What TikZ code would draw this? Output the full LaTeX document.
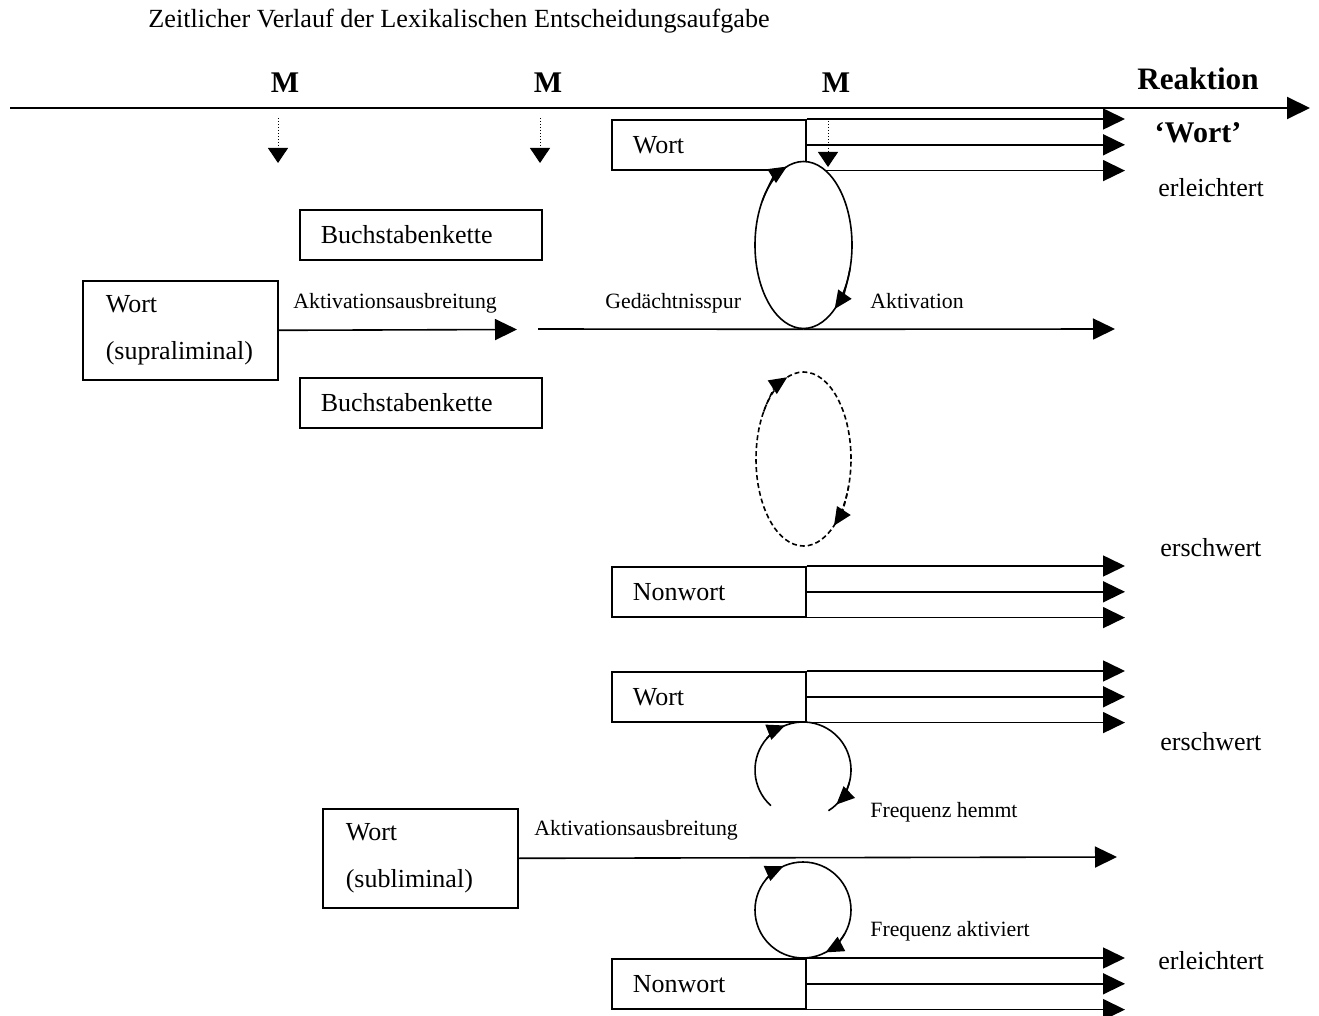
\documentclass[tikz,border=0pt]{standalone}
\usepackage{fontspec}
\setmainfont{Liberation Serif}
\usetikzlibrary{arrows.meta, positioning, shapes.geometric, calc}
\tikzset{
  kasten/.style={
    draw,
    line width=0.8pt,
    anchor=north west,
    minimum height=25pt,
    inner xsep=10.5pt,
    inner ysep=0pt,
    text width=76pt,
    align=left,
    font=\fontsize{13}{15.6}\selectfont
  },
  doppelkasten/.style={
    kasten,
    minimum height=49.5pt,
    inner xsep=11.5pt,
    text width=74.5pt,
    font=\fontsize{13}{23.5}\selectfont
  },
  spur/.style={
    ellipse,
    draw,
    line width=0.8pt,
    inner sep=0pt
  },
  flow/.style={
    -{Triangle[length=11pt,width=10.5pt]},
    line width=0.8pt
  },
  achse/.style={
    -{Triangle[length=11.5pt,width=11pt]},
    line width=1pt
  },
  marke/.style={
    densely dotted,
    -{Triangle[length=7.5pt,width=10pt]},
    line width=0.5pt
  },
  bogen/.style={
    -{Triangle[length=9pt,width=8pt]},
    line width=0.8pt
  },
  gestrichelt/.style={dash pattern=on 2.5pt off 1.5pt},
  normal/.style={anchor=base west, inner sep=0pt, font=\fontsize{13}{15.6}\selectfont},
  klein/.style={anchor=base west, inner sep=0pt, font=\fontsize{10.9}{13}\selectfont},
  fett/.style={anchor=base, inner sep=0pt, font=\fontsize{15}{18}\selectfont\bfseries}
}

\begin{document}
\begin{tikzpicture}[x=0.5pt, y=-0.5pt]
  \useasboundingbox (0,0) rectangle (1319,1016);

  % Zeitachse
  \node[normal, font=\fontsize{13.1}{15}\selectfont] (titel) at (148,28) {Zeitlicher Verlauf der Lexikalischen Entscheidungsaufgabe};
  \coordinate (achse0) at (10,108);
  \coordinate (achse1) at (1310,108);
  \draw[achse] (achse0) -- (achse1);

  \node[fett] (m1) at (285,93) {M};
  \node[fett] (m2) at (548,93) {M};
  \node[fett] (m3) at (836,93) {M};
  \node[fett, font=\fontsize{15.6}{18}\selectfont\bfseries] (reaktion) at (1198,90) {Reaktion};
  \node[fett] (antwort) at (1198,143) {`Wort'};

  \coordinate (p1) at (278,118);  \coordinate (q1) at (278,163);
  \coordinate (p2) at (540,118);  \coordinate (q2) at (540,163);
  \coordinate (p3) at (828,121);  \coordinate (q3) at (828,167);

  % Kaesten
  \node[doppelkasten] (supra) at (82,280) {Wort\\(supraliminal)};
  \node[kasten, text width=100pt] (kette1) at (299,209) {Buchstabenkette};
  \node[kasten, text width=100pt] (kette2) at (299,377) {Buchstabenkette};
  \node[kasten] (wort1) at (611,119) {Wort};
  \node[kasten] (nonwort1) at (611,566) {Nonwort};
  \node[kasten] (wort2) at (611,671) {Wort};
  \node[doppelkasten] (subl) at (322,808) {Wort\\(subliminal)};
  \node[kasten] (nonwort2) at (611,958) {Nonwort};

  \coordinate (ende) at (1125,0);
  \coordinate (ausbreitung) at (517,329.5);
  \coordinate (spurstart) at (538,329);
  \coordinate (aktivende) at (1115,329);
  \coordinate (sublende) at (1117,857);

  \path (wort1.north east) edge[flow] (wort1.north east -| ende)
        (wort1.east) edge[flow] (wort1.east -| ende)
        (wort1.south east) edge[flow] (wort1.south east -| ende)
        (nonwort1.north east) edge[flow] (nonwort1.north east -| ende)
        (nonwort1.east) edge[flow] (nonwort1.east -| ende)
        (nonwort1.south east) edge[flow] (nonwort1.south east -| ende)
        (wort2.north east) edge[flow] (wort2.north east -| ende)
        (wort2.east) edge[flow] (wort2.east -| ende)
        (wort2.south east) edge[flow] (wort2.south east -| ende)
        (nonwort2.north east) edge[flow] (nonwort2.north east -| ende)
        (nonwort2.east) edge[flow] (nonwort2.east -| ende)
        (nonwort2.south east) edge[flow] (nonwort2.south east -| ende);

  % Gedaechtnisspur
  \node[spur, fill=white, minimum width=48.5pt, minimum height=83.5pt] (gedaechtnis) at (803.5,245) {};
  \draw[bogen] (gedaechtnis.center) ++(212:48.5 and 83.5) arc[start angle=212, end angle=250, x radius=48.5, y radius=83.5];
  \draw[bogen] (gedaechtnis.center) ++(16:48.5 and 83.5) arc[start angle=16, end angle=50, x radius=48.5, y radius=83.5];

  \draw[marke] (p1) -- (q1);
  \draw[marke] (p2) -- (q2);
  \draw[marke] (p3) -- (q3);

  \draw[flow] (supra.east) -- (ausbreitung);
  \draw[line width=0.8pt] (spurstart) -- (gedaechtnis.south);
  \draw[flow] (gedaechtnis.south) -- (aktivende);

  \node[spur, gestrichelt, minimum width=47.5pt, minimum height=87pt] (gedaechtnis2) at (803.5,459) {};
  \draw[bogen, gestrichelt] (gedaechtnis2.center) ++(213:47.5 and 87) arc[start angle=213, end angle=250, x radius=47.5, y radius=87];
  \draw[bogen, gestrichelt] (gedaechtnis2.center) ++(18:47.5 and 87) arc[start angle=18, end angle=50, x radius=47.5, y radius=87];

  % Frequenz
  \coordinate (k1) at (803,770);
  \coordinate (k2) at (803,910);
  \draw[line width=0.8pt] (k1) ++(132:48) arc[start angle=132, end angle=418, radius=48];
  \draw[bogen] (k1) ++(221:48) arc[start angle=221, end angle=248, radius=48];
  \draw[bogen] (k1) ++(15:48) arc[start angle=15, end angle=46, radius=48];
  \draw[line width=0.8pt] (k2) circle[radius=48];
  \draw[bogen] (k2) ++(220:48) arc[start angle=220, end angle=246, radius=48];
  \draw[bogen] (k2) ++(30:48) arc[start angle=30, end angle=62, radius=48];

  \draw[flow] (subl.east) -- (sublende);

  % Beschriftungen
  \node[klein] (l1) at (293,309) {Aktivationsausbreitung};
  \node[klein] (l2) at (605,309) {Gedächtnisspur};
  \node[klein] (l3) at (870,309) {Aktivation};
  \node[klein] (l4) at (870,817) {Frequenz hemmt};
  \node[klein] (l5) at (870,936) {Frequenz aktiviert};
  \node[klein] (l6) at (534,835) {Aktivationsausbreitung};

  \node[normal] (r1) at (1158,197) {erleichtert};
  \node[normal] (r2) at (1160,557) {erschwert};
  \node[normal] (r3) at (1160,750) {erschwert};
  \node[normal] (r4) at (1158,969) {erleichtert};
\end{tikzpicture}
\end{document}
